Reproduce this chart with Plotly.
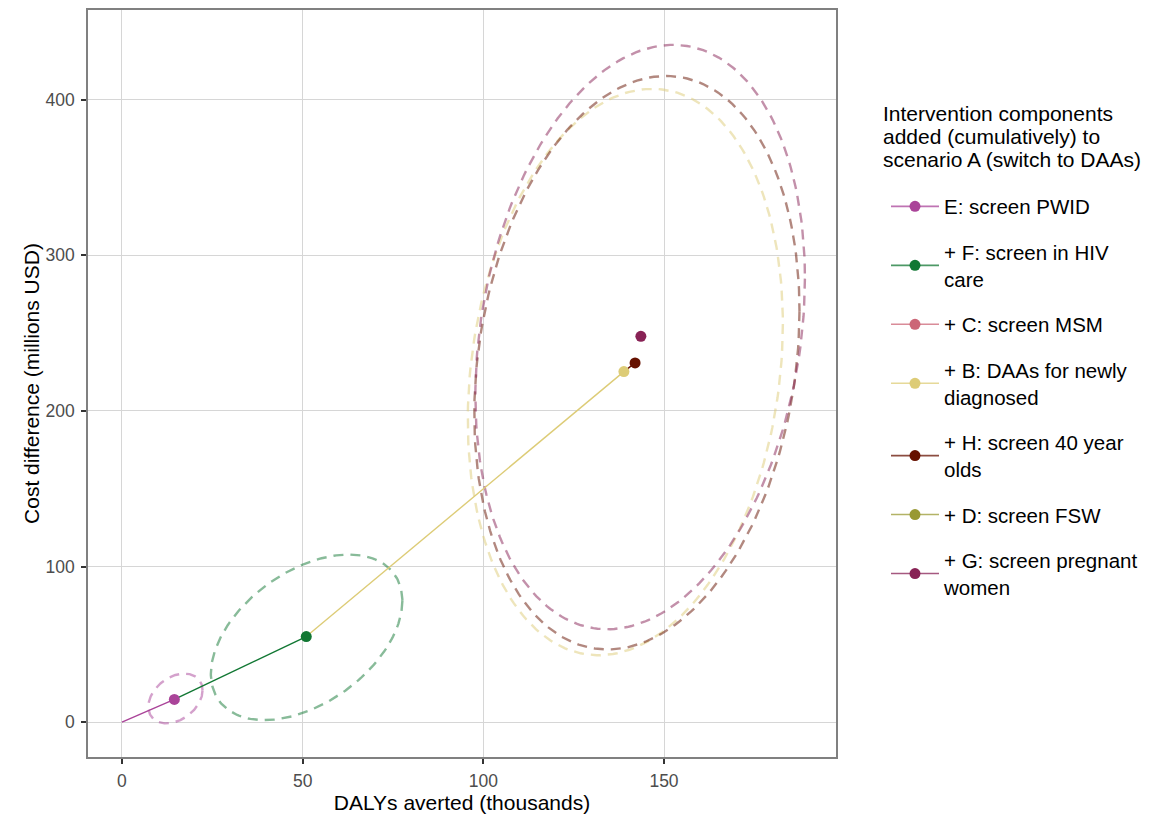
import numpy as np
import plotly.graph_objects as go

# ---- data ----
series = [
    "E: screen PWID",
    "+ F: screen in HIV<br>care",
    "+ C: screen MSM",
    "+ B: DAAs for newly<br>diagnosed",
    "+ H: screen 40 year<br>olds",
    "+ D: screen FSW",
    "+ G: screen pregnant<br>women",
]
colors = ["#AA4499", "#117733", "#CC6677", "#DDCC77", "#661100", "#999933", "#882255"]

# point estimates (DALYs averted, thousands; cost difference, millions USD)
dalys = [14.5, 51.0, None, 138.9, 142.0, None, 143.6]
cost = [14.6, 55.0, None, 225.3, 230.9, None, 248.0]

# start of the path segment leading to each point
prev_dalys = [0.0, 14.5, None, 51.0, 138.9, None, None]
prev_cost = [0.0, 14.6, None, 55.0, 225.3, None, None]

# uncertainty ellipses: centre, half-extent in x and y, correlation
ell_cx = [14.8, 51.1, None, 139.3, 142.5, None, 143.4]
ell_cy = [15.2, 54.5, None, 225.0, 231.0, None, 247.5]
ell_sx = [7.5, 26.5, None, 43.6, 45.0, None, 45.6]
ell_sy = [16.0, 53.2, None, 182.0, 184.3, None, 187.8]
ell_rho = [0.33, 0.44, None, 0.17, 0.18, None, 0.20]

x_ticks = [0, 50, 100, 150]
y_ticks = [0, 100, 200, 300, 400]

legend_title_lines = [
    "Intervention components",
    "added (cumulatively) to",
    "scenario A (switch to DAAs)",
]

FONT = "Liberation Sans, Arial, sans-serif"

# page body has an 8px margin: figure is drawn at (8, 8) in the window
W, H = 1156, 808
ML, MR, MT, MB = 80, 328, 0, 59
PW, PH = W - ML - MR, H - MT - MB


def hex_rgba(h, a):
    h = h.lstrip("#")
    r, g, b = int(h[0:2], 16), int(h[2:4], 16), int(h[4:6], 16)
    return f"rgba({r},{g},{b},{a})"


def px_to_paper_x(px):  # screen px -> paper x
    return (px - 8 - ML) / PW


def px_to_paper_y(py):  # screen px -> paper y
    return (H - MB - (py - 8)) / PH


fig = go.Figure()

# ellipses
t = np.linspace(0, 2 * np.pi, 241)
for i in range(len(series)):
    if ell_cx[i] is None:
        continue
    d = np.arccos(ell_rho[i])
    ex = ell_cx[i] + ell_sx[i] * np.cos(t)
    ey = ell_cy[i] + ell_sy[i] * np.cos(t + d)
    fig.add_trace(go.Scatter(
        x=ex, y=ey, mode="lines",
        line=dict(color=hex_rgba(colors[i], 0.5), width=2.4, dash="10px,7px"),
        showlegend=False, hoverinfo="skip",
    ))

# path segments
for i in range(len(series)):
    if prev_dalys[i] is None or dalys[i] is None:
        continue
    fig.add_trace(go.Scatter(
        x=[prev_dalys[i], dalys[i]], y=[prev_cost[i], cost[i]], mode="lines",
        line=dict(color=colors[i], width=1.4),
        showlegend=False, hoverinfo="skip",
    ))

# points (also the legend entries)
for i in range(len(series)):
    fig.add_trace(go.Scatter(
        x=[dalys[i]], y=[cost[i]], mode="lines+markers", name=series[i],
        legendgroup=f"g{i}",
        marker=dict(color=colors[i], size=11),
        line=dict(color=hex_rgba(colors[i], 0.75), width=1.6),
    ))

# legend title lines
for k, (txt, yc) in enumerate(zip(legend_title_lines, [112, 135, 158])):
    fig.add_annotation(
        text=txt, xref="paper", yref="paper",
        x=px_to_paper_x(881), y=px_to_paper_y(yc),
        xanchor="left", yanchor="middle", showarrow=False,
        font=dict(size=21, color="black", family=FONT),
    )

fig.update_layout(
    width=W, height=H,
    margin=dict(l=ML, r=MR, t=MT, b=MB),
    paper_bgcolor="white", plot_bgcolor="white",
    font=dict(family=FONT, color="black"),
    legend=dict(
        font=dict(size=20.5, color="black"),
        x=px_to_paper_x(886), xanchor="left",
        y=px_to_paper_y(185), yanchor="top",
        tracegroupgap=16, itemwidth=48,
        bgcolor="rgba(0,0,0,0)",
    ),
)

fig.update_xaxes(
    range=[-9.4, 197.6], tickvals=x_ticks, ticktext=[str(v) for v in x_ticks],
    showgrid=True, gridcolor="#d6d6d6", gridwidth=1, zeroline=False,
    showline=True, mirror=True, linecolor="#808080", linewidth=1.5,
    ticks="outside", ticklen=5, tickwidth=1.6, tickcolor="#333333",
    ticklabelstandoff=2,
    tickfont=dict(size=17.5, color="#4d4d4d", family=FONT),
    title=dict(text="DALYs averted (thousands)", font=dict(size=21, color="black"), standoff=6),
)
fig.update_yaxes(
    range=[-22.4, 457.7], tickvals=y_ticks, ticktext=[str(v) for v in y_ticks],
    showgrid=True, gridcolor="#d6d6d6", gridwidth=1, zeroline=False,
    showline=True, mirror=True, linecolor="#808080", linewidth=1.5,
    ticks="outside", ticklen=5, tickwidth=1.6, tickcolor="#333333",
    ticklabelstandoff=3,
    tickfont=dict(size=17.5, color="#4d4d4d", family=FONT),
    title=dict(text="Cost difference (millions USD)", font=dict(size=21, color="black"), standoff=0),
)

fig.write_html("out.html")
